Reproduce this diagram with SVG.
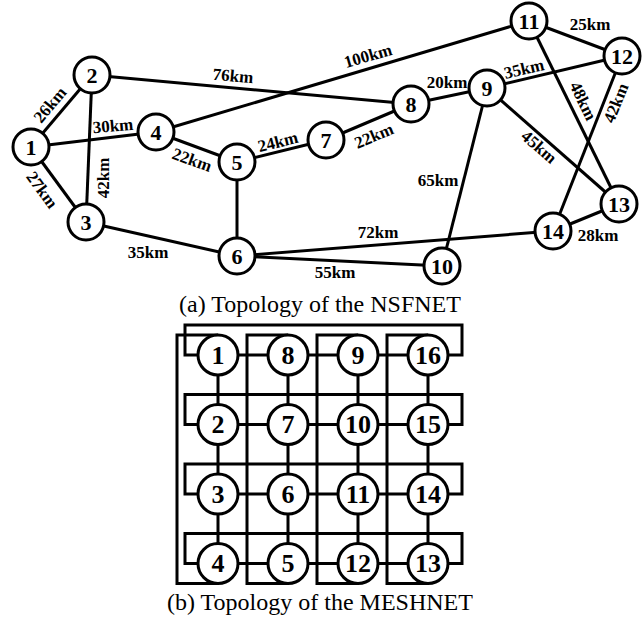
<svg xmlns="http://www.w3.org/2000/svg" width="643" height="621" viewBox="0 0 643 621">
<style>
.e{stroke:#000;stroke-width:3;fill:none;stroke-linecap:butt;stroke-linejoin:miter}
.n circle{fill:#fff;stroke:#000;stroke-width:3}
.n text{font-family:"Liberation Serif",serif;font-weight:bold;font-size:22px;text-anchor:middle;dominant-baseline:central;fill:#000}
.m circle{fill:#fff;stroke:#000;stroke-width:3}
.m text{font-family:"Liberation Serif",serif;font-weight:bold;font-size:26px;text-anchor:middle;dominant-baseline:central;fill:#000}
.l{font-family:"Liberation Serif",serif;font-weight:bold;font-size:17px;text-anchor:middle;dominant-baseline:central;fill:#000}
.cap{font-family:"Liberation Serif",serif;font-size:24px;text-anchor:middle;fill:#000}
</style>
<rect width="643" height="621" fill="#fff"/>
<g id="nsf-edges" class="e">
<line x1="31" y1="147" x2="92" y2="75"/>
<line x1="31" y1="147" x2="86" y2="222"/>
<line x1="31" y1="147" x2="156" y2="132"/>
<line x1="92" y1="75" x2="86" y2="222"/>
<line x1="92" y1="75" x2="411" y2="104"/>
<line x1="86" y1="222" x2="237" y2="256"/>
<line x1="156" y1="132" x2="237" y2="162"/>
<line x1="156" y1="132" x2="529" y2="21"/>
<line x1="237" y1="162" x2="237" y2="256"/>
<line x1="237" y1="162" x2="326" y2="140"/>
<line x1="326" y1="140" x2="411" y2="104"/>
<line x1="411" y1="104" x2="487" y2="88"/>
<line x1="487" y1="88" x2="442" y2="266"/>
<line x1="487" y1="88" x2="622" y2="56"/>
<line x1="487" y1="88" x2="619" y2="204"/>
<line x1="529" y1="21" x2="622" y2="56"/>
<line x1="529" y1="21" x2="619" y2="204"/>
<line x1="622" y1="56" x2="553" y2="231"/>
<line x1="619" y1="204" x2="553" y2="231"/>
<line x1="237" y1="256" x2="442" y2="266"/>
<line x1="237" y1="256" x2="553" y2="231"/>
</g>
<g id="nsf-labels">
<text class="l" transform="translate(50,105) rotate(-50)">26km</text>
<text class="l" transform="translate(113,126) rotate(-5)">30km</text>
<text class="l" transform="translate(42,190) rotate(54)">27km</text>
<text class="l" transform="translate(103,178) rotate(-90)">42km</text>
<text class="l" transform="translate(192,160) rotate(20)">22km</text>
<text class="l" transform="translate(233,76) rotate(5)">76km</text>
<text class="l" transform="translate(368,56) rotate(-16)">100km</text>
<text class="l" transform="translate(278,142) rotate(-14)">24km</text>
<text class="l" transform="translate(374,136) rotate(-23)">22km</text>
<text class="l" transform="translate(447,82)">20km</text>
<text class="l" transform="translate(524,69) rotate(-13)">35km</text>
<text class="l" transform="translate(590,24)">25km</text>
<text class="l" transform="translate(583,101) rotate(64)">48km</text>
<text class="l" transform="translate(616,103) rotate(-68)">42km</text>
<text class="l" transform="translate(539,147) rotate(41)">45km</text>
<text class="l" transform="translate(438,180)">65km</text>
<text class="l" transform="translate(378,232)">72km</text>
<text class="l" transform="translate(335,272)">55km</text>
<text class="l" transform="translate(598,235)">28km</text>
<text class="l" transform="translate(148,252)">35km</text>
</g>
<g id="n1" class="n"><circle cx="31" cy="147" r="18"/><text x="31" y="147">1</text></g>
<g id="n2" class="n"><circle cx="92" cy="75" r="18"/><text x="92" y="75">2</text></g>
<g id="n3" class="n"><circle cx="86" cy="222" r="18"/><text x="86" y="222">3</text></g>
<g id="n4" class="n"><circle cx="156" cy="132" r="18"/><text x="156" y="132">4</text></g>
<g id="n5" class="n"><circle cx="237" cy="162" r="18"/><text x="237" y="162">5</text></g>
<g id="n6" class="n"><circle cx="237" cy="256" r="18"/><text x="237" y="256">6</text></g>
<g id="n7" class="n"><circle cx="326" cy="140" r="18"/><text x="326" y="140">7</text></g>
<g id="n8" class="n"><circle cx="411" cy="104" r="18"/><text x="411" y="104">8</text></g>
<g id="n9" class="n"><circle cx="487" cy="88" r="18"/><text x="487" y="88">9</text></g>
<g id="n10" class="n"><circle cx="442" cy="266" r="18"/><text x="442" y="266">10</text></g>
<g id="n11" class="n"><circle cx="529" cy="21" r="18"/><text x="529" y="21">11</text></g>
<g id="n12" class="n"><circle cx="622" cy="56" r="18"/><text x="622" y="56">12</text></g>
<g id="n13" class="n"><circle cx="619" cy="204" r="18"/><text x="619" y="204">13</text></g>
<g id="n14" class="n"><circle cx="553" cy="231" r="18"/><text x="553" y="231">14</text></g>
<text class="cap" x="320" y="312">(a) Topology of the NSFNET</text>

<g id="mesh-edges" class="e">
<path d="M198,355 H185 V325 H462 V355 H448"/>
<path d="M198,424.5 H185 V394.5 H462 V424.5 H448"/>
<path d="M198,494 H185 V464 H462 V494 H448"/>
<path d="M198,563.5 H185 V533.5 H462 V563.5 H448"/>
<path d="M218,335 H177 V583.5 H218"/>
<path d="M288,335 H247 V583.5 H288"/>
<path d="M358,335 H317 V583.5 H358"/>
<path d="M428,335 H387 V583.5 H428"/>
<path d="M218,355 H428 M218,424.5 H428 M218,494 H428 M218,563.5 H428"/>
<path d="M218,355 V563.5 M288,355 V563.5 M358,355 V563.5 M428,355 V563.5"/>
</g>
<g id="m1" class="m"><circle cx="218" cy="355" r="20"/><text x="218" y="355">1</text></g>
<g id="m8" class="m"><circle cx="288" cy="355" r="20"/><text x="288" y="355">8</text></g>
<g id="m9" class="m"><circle cx="358" cy="355" r="20"/><text x="358" y="355">9</text></g>
<g id="m16" class="m"><circle cx="428" cy="355" r="20"/><text x="428" y="355">16</text></g>
<g id="m2" class="m"><circle cx="218" cy="424.5" r="20"/><text x="218" y="424.5">2</text></g>
<g id="m7" class="m"><circle cx="288" cy="424.5" r="20"/><text x="288" y="424.5">7</text></g>
<g id="m10" class="m"><circle cx="358" cy="424.5" r="20"/><text x="358" y="424.5">10</text></g>
<g id="m15" class="m"><circle cx="428" cy="424.5" r="20"/><text x="428" y="424.5">15</text></g>
<g id="m3" class="m"><circle cx="218" cy="494" r="20"/><text x="218" y="494">3</text></g>
<g id="m6" class="m"><circle cx="288" cy="494" r="20"/><text x="288" y="494">6</text></g>
<g id="m11" class="m"><circle cx="358" cy="494" r="20"/><text x="358" y="494">11</text></g>
<g id="m14" class="m"><circle cx="428" cy="494" r="20"/><text x="428" y="494">14</text></g>
<g id="m4" class="m"><circle cx="218" cy="563.5" r="20"/><text x="218" y="563.5">4</text></g>
<g id="m5" class="m"><circle cx="288" cy="563.5" r="20"/><text x="288" y="563.5">5</text></g>
<g id="m12" class="m"><circle cx="358" cy="563.5" r="20"/><text x="358" y="563.5">12</text></g>
<g id="m13" class="m"><circle cx="428" cy="563.5" r="20"/><text x="428" y="563.5">13</text></g>
<text class="cap" x="320" y="610">(b) Topology of the MESHNET</text>
</svg>
